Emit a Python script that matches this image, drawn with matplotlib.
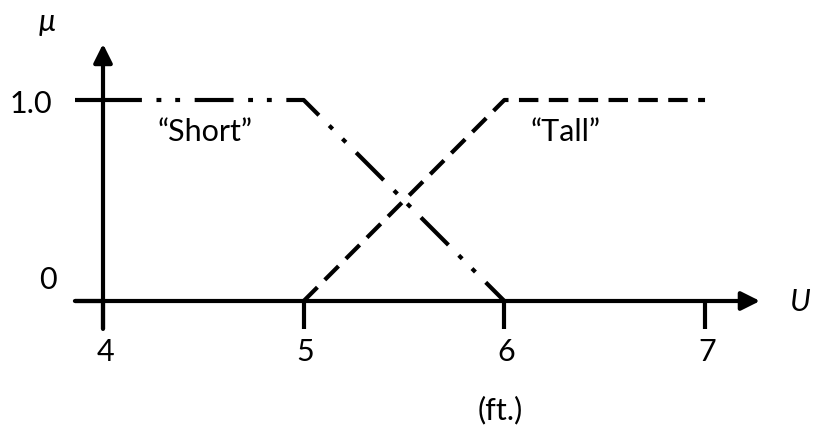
import matplotlib
matplotlib.use("Agg")
import matplotlib.pyplot as plt

# membership functions (height in ft -> mu)
short_x = [4, 5, 6]
short_mu = [1.0, 1.0, 0.0]
tall_x = [5, 6, 7]
tall_mu = [0.0, 1.0, 1.0]

x_ticks = [4, 5, 6, 7]
y_ticks = [0, 1.0]
y_tick_labels = ["0", "1.0"]

plt.rcParams['font.family'] = ['Lato', 'DejaVu Sans']
plt.rcParams['lines.scale_dashes'] = False

fig = plt.figure(figsize=(8.15, 4.35), dpi=100)
ax = fig.add_axes([0, 0, 1, 1])
ax.set_xlim(3.4867, 7.548)
ax.set_ylim(-0.6617, 1.5025)
ax.axis('off')

lw = 3.0
tick_dx = 0.14
tick_dy = 0.139

# axes with arrows
ax.annotate('', xy=(7.274, 0), xytext=(4 - tick_dx, 0),
            arrowprops=dict(arrowstyle='-|>', lw=lw, color='black',
                            mutation_scale=28, shrinkA=0, shrinkB=0))
ax.annotate('', xy=(4, 1.279), xytext=(4, -tick_dy),
            arrowprops=dict(arrowstyle='-|>', lw=lw, color='black',
                            mutation_scale=28, shrinkA=0, shrinkB=0))

# tick marks
for xt in x_ticks:
    ax.plot([xt, xt], [0, -tick_dy], color='black', lw=lw, solid_capstyle='butt')
for yt in y_ticks:
    ax.plot([4 - tick_dx, 4], [yt, yt], color='black', lw=lw, solid_capstyle='butt')

# membership curves
ax.plot(short_x, short_mu, color='black', lw=lw,
        dashes=[28, 10.5, 3.5, 10, 3.5, 10.5], dash_capstyle='butt')
ax.plot(tall_x, tall_mu, color='black', lw=lw,
        dashes=[14, 7.5], dash_capstyle='butt')

fs = 22
for xt in x_ticks:
    ax.text(xt + 0.01, -0.249, str(xt), ha='center', va='center', fontsize=fs)
ax.text(3.64, 0.985, y_tick_labels[1], ha='center', va='center', fontsize=fs)
ax.text(3.726, 0.109, y_tick_labels[0], ha='center', va='center', fontsize=fs)

ax.text(4.508, 0.846, "\u201cShort\u201d", ha='center', va='center', fontsize=fs)
ax.text(6.307, 0.846, "\u201cTall\u201d", ha='center', va='center', fontsize=fs)
ax.text(5.978, -0.537, "(ft.)", ha='center', va='center', fontsize=fs)
ax.text(3.72, 1.393, "\u03bc", ha='center', va='center', fontsize=fs, style='italic')
ax.text(7.425, 0, "U", ha='left', va='center', fontsize=fs, style='italic')

fig.savefig("out.png", dpi=100)
